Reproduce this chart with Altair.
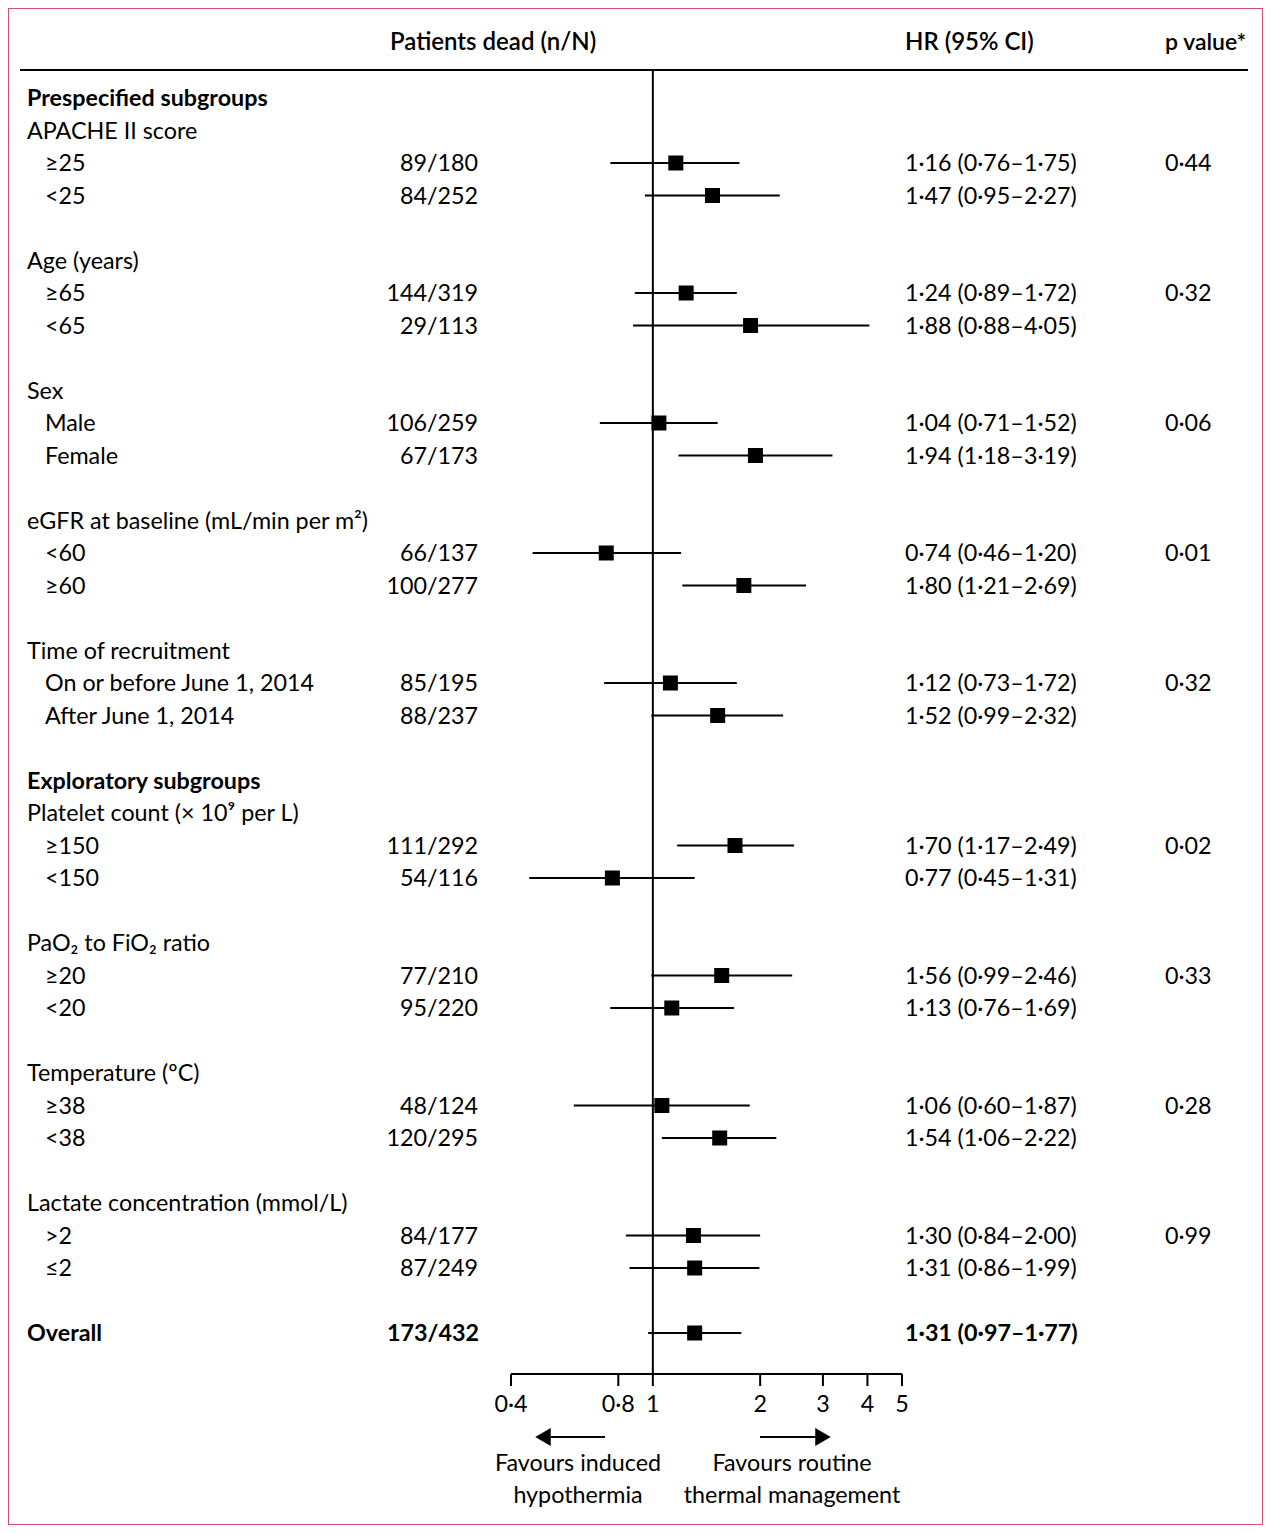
import altair as alt
import pandas as pd

# ---------------- data ----------------
labels = ["Prespecified subgroups", "APACHE II score", "≥25", "<25",
          "Age (years)", "≥65", "<65",
          "Sex", "Male", "Female",
          "eGFR at baseline (mL/min per m²)", "<60", "≥60",
          "Time of recruitment", "On or before June 1, 2014", "After June 1, 2014",
          "Exploratory subgroups", "Platelet count (× 10⁹ per L)", "≥150", "<150",
          "PaO₂ to FiO₂ ratio", "≥20", "<20",
          "Temperature (ºC)", "≥38", "<38",
          "Lactate concentration (mmol/L)", ">2", "≤2",
          "Overall"]
label_rows = [0, 1, 2, 3, 5, 6, 7, 9, 10, 11, 13, 14, 15, 17, 18, 19,
              21, 22, 23, 24, 26, 27, 28, 30, 31, 32, 34, 35, 36, 38]
label_kinds = ["section", "group", "sub", "sub",
               "group", "sub", "sub",
               "group", "sub", "sub",
               "group", "sub", "sub",
               "group", "sub", "sub",
               "section", "group", "sub", "sub",
               "group", "sub", "sub",
               "group", "sub", "sub",
               "group", "sub", "sub",
               "section"]

est_rows = [2, 3, 6, 7, 10, 11, 14, 15, 18, 19, 23, 24, 27, 28, 31, 32, 35, 36, 38]
dead_n = ["89/180", "84/252", "144/319", "29/113", "106/259", "67/173",
          "66/137", "100/277", "85/195", "88/237", "111/292", "54/116",
          "77/210", "95/220", "48/124", "120/295", "84/177", "87/249", "173/432"]
hr = [1.16, 1.47, 1.24, 1.88, 1.04, 1.94, 0.74, 1.80, 1.12, 1.52,
      1.70, 0.77, 1.56, 1.13, 1.06, 1.54, 1.30, 1.31, 1.31]
ci_low = [0.76, 0.95, 0.89, 0.88, 0.71, 1.18, 0.46, 1.21, 0.73, 0.99,
          1.17, 0.45, 0.99, 0.76, 0.60, 1.06, 0.84, 0.86, 0.97]
ci_high = [1.75, 2.27, 1.72, 4.05, 1.52, 3.19, 1.20, 2.69, 1.72, 2.32,
           2.49, 1.31, 2.46, 1.69, 1.87, 2.22, 2.00, 1.99, 1.77]
is_overall = [False] * 18 + [True]

p_rows = [2, 6, 10, 14, 18, 23, 27, 31, 35]
p_values = ["0·44", "0·32", "0·06", "0·01", "0·32", "0·02", "0·33", "0·28", "0·99"]

tick_values = [0.4, 0.8, 1, 2, 3, 4, 5]
tick_labels = ["0·4", "0·8", "1", "2", "3", "4", "5"]

col_headers = ["Patients dead (n/N)", "HR (95% CI)", "p value*"]
favour_left = ["Favours induced", "hypothermia"]
favour_right = ["Favours routine", "thermal management"]

# ---------------- tables ----------------
def fmt(v):
    return f"{v:.2f}".replace(".", "·")

lab_df = pd.DataFrame({"row": label_rows, "label": labels, "kind": label_kinds})
est_df = pd.DataFrame({
    "row": est_rows, "dead": dead_n, "hr": hr, "lo": ci_low, "hi": ci_high,
    "overall": is_overall,
    "hrtext": [f"{fmt(h)} ({fmt(l)}–{fmt(u)})" for h, l, u in zip(hr, ci_low, ci_high)],
})
p_df = pd.DataFrame({"row": p_rows, "p": p_values})
tick_df = pd.DataFrame({"v": tick_values, "lab": tick_labels})

FONT = "Lato"
FS = 23.3
W, H = 1255, 1517

xs = alt.Scale(type="log", domain=[0.4, 5], range=[503, 894])
ys = alt.Scale(domain=[0, 38], range=[90, 90 + 38 * 32.5])

X = lambda f: alt.X(f, type="quantitative", scale=xs, axis=None)
Y = alt.Y("row:Q", scale=ys, axis=None)

base_text = dict(font=FONT, fontSize=FS, color="black", baseline="middle", dy=1)

# labels
sec = alt.Chart(lab_df).transform_filter("datum.kind == 'section'").mark_text(
    align="left", fontWeight="bold", **base_text).encode(x=alt.value(19), y=Y, text="label:N")
grp = alt.Chart(lab_df).transform_filter("datum.kind == 'group'").mark_text(
    align="left", **base_text).encode(x=alt.value(19), y=Y, text="label:N")
sub = alt.Chart(lab_df).transform_filter("datum.kind == 'sub'").mark_text(
    align="left", **base_text).encode(x=alt.value(37), y=Y, text="label:N")

dead_reg = alt.Chart(est_df).transform_filter("!datum.overall").mark_text(
    align="right", **base_text).encode(x=alt.value(470), y=Y, text="dead:N")
dead_bold = alt.Chart(est_df).transform_filter("datum.overall").mark_text(
    align="right", fontWeight="bold", **base_text).encode(x=alt.value(471), y=Y, text="dead:N")
hr_reg = alt.Chart(est_df).transform_filter("!datum.overall").mark_text(
    align="left", **base_text).encode(x=alt.value(897), y=Y, text="hrtext:N")
hr_bold = alt.Chart(est_df).transform_filter("datum.overall").mark_text(
    align="left", fontWeight="bold", **base_text).encode(x=alt.value(897), y=Y, text="hrtext:N")
pv = alt.Chart(p_df).mark_text(align="left", **base_text).encode(
    x=alt.value(1157), y=Y, text="p:N")

# headers
hdr_df = pd.DataFrame({"t": col_headers, "px": [382, 897, 1157], "fs": [24, 24, 23]})
hdr_text = dict(base_text)
hdr_text.pop("fontSize")
hdr = alt.Chart(hdr_df).mark_text(align="left", fontWeight=600, **hdr_text).encode(
    x=alt.X("px:Q", scale=None), y=alt.value(34), text="t:N",
    size=alt.Size("fs:Q", scale=None, legend=None))

top_rule = alt.Chart(pd.DataFrame({"a": [0]})).mark_rule(color="black", strokeWidth=2).encode(
    x=alt.value(12), x2=alt.value(1240), y=alt.value(62))

# reference line at HR=1
ref = alt.Chart(pd.DataFrame({"v": [1]})).mark_rule(color="black", strokeWidth=2).encode(
    x=X("v"), y=alt.value(62), y2=alt.value(1366))

# CIs and squares
ci = alt.Chart(est_df).mark_rule(color="black", strokeWidth=2).encode(
    x=X("lo"), x2="hi:Q", y=Y)
sq = alt.Chart(est_df).mark_square(color="black", size=225, opacity=1, filled=True).encode(
    x=X("hr"), y=Y)

# axis
axis_line = alt.Chart(pd.DataFrame({"a": [0.4], "b": [5]})).mark_rule(
    color="black", strokeWidth=2).encode(x=X("a"), x2="b:Q", y=alt.value(1366))
ticks = alt.Chart(tick_df).mark_rule(color="black", strokeWidth=2).encode(
    x=X("v"), y=alt.value(1366), y2=alt.value(1378))
tick_txt = alt.Chart(tick_df).mark_text(align="center", **base_text).encode(
    x=X("v"), y=alt.value(1396), text="lab:N")

# arrows
arr_lines = alt.Chart(pd.DataFrame({"x1": [543, 752], "x2": [597, 808]})).mark_rule(
    color="black", strokeWidth=2).encode(
    x=alt.X("x1:Q", scale=None), x2="x2:Q", y=alt.value(1429))
arr_heads = alt.Chart(pd.DataFrame({"px": [535, 815], "shape": ["triangle-left", "triangle-right"]})).mark_point(
    filled=True, color="black", opacity=1, size=320).encode(
    x=alt.X("px:Q", scale=None), y=alt.value(1429),
    shape=alt.Shape("shape:N", scale=None))

fav_df = pd.DataFrame({
    "t": favour_left + favour_right,
    "px": [570, 570, 784, 784],
    "py": [1455, 1487, 1455, 1487],
})
fav = alt.Chart(fav_df).mark_text(align="center", **base_text).encode(
    x=alt.X("px:Q", scale=None), y=alt.Y("py:Q", scale=None), text="t:N")

chart = alt.layer(
    top_rule, ref, ci, sq, axis_line, ticks, tick_txt, arr_lines, arr_heads,
    sec, grp, sub, dead_reg, dead_bold, hr_reg, hr_bold, pv, hdr, fav,
).resolve_scale(x="independent", y="independent").properties(
    width=W, height=H, padding=0, autosize=alt.AutoSizeParams(type="none"),
    background="white",
).configure_view(stroke="#d24d78", strokeWidth=2)

chart.save("out.html", embed_options={"renderer": "svg", "actions": False})
